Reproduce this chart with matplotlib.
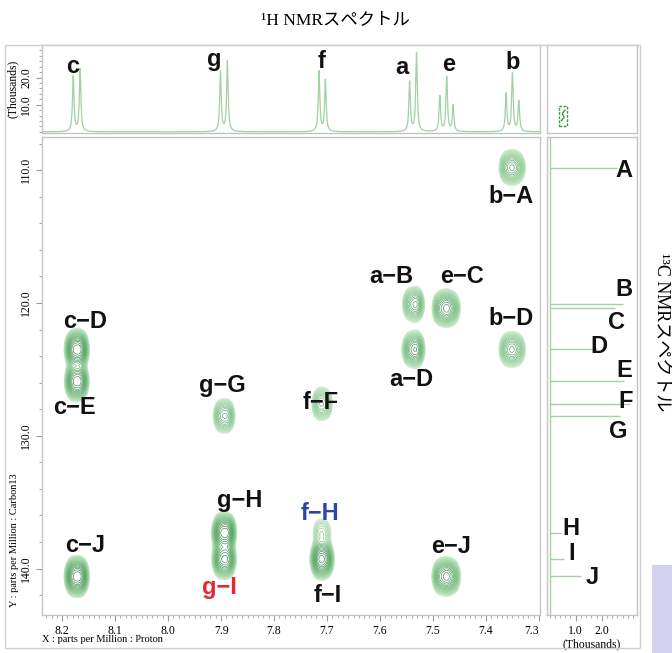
import numpy as np
import matplotlib
matplotlib.use("Agg")
import matplotlib.pyplot as plt
from matplotlib.colors import LinearSegmentedColormap
from matplotlib.ticker import MultipleLocator, FixedLocator
from matplotlib.patches import Rectangle
import matplotlib.transforms as mtransforms

# ---------------- data ----------------
# 1H multiplet lines (ppm) and their heights (thousands)
a_lines = [7.544, 7.531]
a_heights = [18.3, 28.9]
b_lines = [7.362, 7.350, 7.338]
b_heights = [14.0, 21.5, 11.2]
c_lines = [8.179, 8.166]
c_heights = [20.4, 23.0]
e_lines = [7.487, 7.474, 7.462]
e_heights = [13.0, 20.1, 9.6]
f_lines = [7.715, 7.703]
f_heights = [22.2, 19.0]
g_lines = [7.901, 7.888]
g_heights = [22.2, 26.0]

proton_names = ["c", "g", "f", "a", "e", "b"]

# 13C lines (ppm) and projection heights (thousands)
carbon_names = ["A", "B", "C", "D", "E", "F", "G", "H", "I", "J"]
carbon_ppm = [109.8, 120.1, 120.4, 123.5, 125.9, 127.6, 128.5, 137.3, 139.3, 140.6]
carbon_height = [2.6, 2.8, 2.5, 1.8, 2.85, 3.1, 2.7, 0.45, 0.55, 1.2]

# HMBC cross peaks (proton-carbon) and relative intensity
cross_pairs = ["b-A", "a-B", "e-C", "a-D", "b-D", "c-D", "c-E", "g-G",
               "f-F", "c-J", "g-H", "g-I", "f-H", "f-I", "e-J"]
cross_amp = [0.40, 0.45, 0.60, 0.60, 0.40, 1.00, 0.85, 0.35,
             0.28, 1.00, 1.00, 0.80, 0.14, 0.90, 0.70]

proton = {"a": (a_lines, a_heights), "b": (b_lines, b_heights),
          "c": (c_lines, c_heights), "e": (e_lines, e_heights),
          "f": (f_lines, f_heights), "g": (g_lines, g_heights)}
carbon = dict(zip(carbon_names, carbon_ppm))

# ---------------- figure layout ----------------
W, H = 672, 653
fig = plt.figure(figsize=(W / 100, H / 100), dpi=100)


def box(x0, y0, x1, y1):
    return [x0 / W, 1 - y1 / H, (x1 - x0) / W, (y1 - y0) / H]


ax = fig.add_axes(box(42, 137, 540, 615))
axt = fig.add_axes(box(42, 45, 540, 133), sharex=ax)
axr = fig.add_axes(box(547, 137, 637, 615), sharey=ax)
axc = fig.add_axes(box(547, 45, 637, 133))

spine_col = "#c4c4c4"
tick_col = "#9a9a9a"
trace_col = "#9fd3a0"
serif = ["Liberation Serif", "DejaVu Serif"]
sans = ["Liberation Sans", "DejaVu Sans"]
title_font = ["Liberation Serif", "Noto Sans CJK JP"]

for a_ in (ax, axt, axr, axc):
    for s in a_.spines.values():
        s.set_color(spine_col)
        s.set_linewidth(1.0)

XLIM = (8.238, 7.298)
YLIM = (143.5, 107.5)

# ---------------- 2D contour map ----------------
gx = np.linspace(XLIM[1], XLIM[0], 900)
gy = np.linspace(YLIM[1], YLIM[0], 800)
X, Y = np.meshgrid(gx, gy)
Z = np.zeros_like(X)
sx, sy = 0.0072, 0.62
for pair, amp in zip(cross_pairs, cross_amp):
    hp, cp = pair.split("-")
    lines, heights = proton[hp]
    w = np.array(heights) / max(heights)
    prof = sum(wi * np.exp(-0.5 * ((X - xi) / sx) ** 2) for xi, wi in zip(lines, w))
    Z += amp * prof * np.exp(-0.5 * ((Y - carbon[cp]) / sy) ** 2)
Z /= Z.max()

levels = np.geomspace(0.035, 1.0, 22)
cmap = LinearSegmentedColormap.from_list("grn", ["#c8e8c8", "#84c98b", "#449a51", "#237231"])
ax.contour(X, Y, Z, levels=levels, colors=cmap(np.linspace(0, 1, len(levels))),
           linewidths=0.42)

ax.set_xlim(*XLIM)
ax.set_ylim(*YLIM)

# main axis ticks
xt = [8.2, 8.1, 8.0, 7.9, 7.8, 7.7, 7.6, 7.5, 7.4, 7.3]
ax.xaxis.set_major_locator(FixedLocator(xt))
ax.xaxis.set_minor_locator(MultipleLocator(0.01))
ax.set_xticklabels([f"{v:.1f}" for v in xt], fontfamily=serif, fontsize=8.5)
last = ax.get_xticklabels()[-1]
last.set_horizontalalignment("right")
last.set_transform(last.get_transform() +
                   mtransforms.ScaledTranslation(-6 / 100, 0, fig.dpi_scale_trans))
yt = [110, 120, 130, 140]
ax.yaxis.set_major_locator(FixedLocator(yt))
ax.yaxis.set_minor_locator(MultipleLocator(2))
ax.set_yticklabels([f"{v:.1f}" for v in yt], fontfamily=serif, fontsize=8.5,
                   rotation=90, va="center")
ax.tick_params(which="major", length=4, color=tick_col, width=0.8, pad=3)
ax.tick_params(which="minor", length=2, color=tick_col, width=0.6)

# cross-peak labels
lab_txt = ["b−A", "a−B", "e−C", "b−D", "c−D", "a−D", "f−F", "g−G", "c−E",
           "g−H", "f−H", "c−J", "e−J", "g−I", "f−I"]
lab_x = [7.353, 7.578, 7.446, 7.353, 8.157, 7.540, 7.712, 7.898, 8.176,
         7.864, 7.713, 8.157, 7.466, 7.904, 7.698]
lab_y = [111.96, 118.0, 118.0, 121.2, 121.4, 125.75, 127.5, 126.2, 127.9,
         134.9, 135.85, 138.26, 138.33, 141.4, 142.0]
lab_col = ["#111111"] * 10 + ["#2e45a8"] + ["#111111"] * 2 + ["#e8262b", "#111111"]
for t, x, y, c in zip(lab_txt, lab_x, lab_y, lab_col):
    ax.text(x, y, t, ha="center", va="center", fontsize=17, fontweight="bold",
            color=c, fontfamily=sans)

# ---------------- 1H projection ----------------
px = np.linspace(XLIM[1], XLIM[0], 6000)
spec = np.zeros_like(px)
hw = 0.0017
for name in proton_names:
    lines, heights = proton[name]
    for x0, h0 in zip(lines, heights):
        spec += h0 / (1 + ((px - x0) / hw) ** 2)
axt.plot(px, spec, color=trace_col, lw=0.9)
axt.set_ylim(-0.4, 32)
axt.yaxis.set_major_locator(FixedLocator([10, 20]))
axt.yaxis.set_minor_locator(MultipleLocator(2))
axt.set_yticklabels(["10.0", "20.0"], fontfamily=serif, fontsize=8.5,
                    rotation=90, va="center")
axt.tick_params(axis="x", which="both", bottom=False, labelbottom=False)
axt.tick_params(which="major", length=4, color=tick_col, width=0.8, pad=3)
axt.tick_params(which="minor", length=2, color=tick_col, width=0.6)
axt.set_ylabel("(Thousands)", fontfamily=serif, fontsize=8.5, labelpad=1)

top_lab_x = [8.181, 7.912, 7.710, 7.559, 7.470, 7.349]
top_lab_y = [24.1, 26.7, 25.9, 23.7, 24.8, 25.6]
for t, x, y in zip(proton_names, top_lab_x, top_lab_y):
    axt.text(x, y, t, ha="center", va="center", fontsize=17, fontweight="bold",
             color="#111111", fontfamily=sans)

# ---------------- 13C projection ----------------
axr.hlines(carbon_ppm, 0, carbon_height, color=trace_col, lw=1.0)
axr.axvline(0, color=trace_col, lw=1.0)
axr.set_xlim(-0.1, 3.35)
axr.xaxis.set_major_locator(FixedLocator([1.0, 2.0]))
axr.xaxis.set_minor_locator(MultipleLocator(0.2))
axr.set_xticklabels(["1.0", "2.0"], fontfamily=serif, fontsize=8.5)
axr.tick_params(axis="y", which="both", left=False, labelleft=False)
axr.tick_params(which="major", length=4, color=tick_col, width=0.8, pad=3)
axr.tick_params(which="minor", length=2, color=tick_col, width=0.6)
axr.set_xlabel("(Thousands)", fontfamily=serif, fontsize=8.5, labelpad=1)

c_lab_x = [2.85, 2.85, 2.58, 1.88, 2.85, 2.92, 2.65, 0.81, 0.85, 1.65]
c_lab_y = [110.0, 119.0, 121.5, 123.3, 125.1, 127.4, 129.7, 137.0, 138.9, 140.7]
for t, x, y in zip(carbon_names, c_lab_x, c_lab_y):
    axr.text(x, y, t, ha="center", va="center", fontsize=17, fontweight="bold",
             color="#111111", fontfamily=sans)

# ---------------- corner box ----------------
axc.set_xticks([])
axc.set_yticks([])
axc.set_xlim(0, 1)
axc.set_ylim(0, 1)
axc.add_patch(Rectangle((0.135, 0.08), 0.085, 0.23, fill=False, ec="#3a9a48",
                        lw=1.0, ls=(0, (2, 1))))
axc.plot([0.16, 0.19, 0.17, 0.2], [0.14, 0.18, 0.22, 0.26], color="#3a9a48", lw=1.0)

# ---------------- frame, titles and axis captions ----------------
fig.add_artist(Rectangle((5 / W, 1 - 648 / H), 635 / W, 603 / H, fill=False,
                         ec="#d0d0d0", lw=1.0, transform=fig.transFigure))
fig.add_artist(Rectangle((652 / W, 0), 20 / W, 88 / H, fc="#d2d2ee", ec="none",
                         transform=fig.transFigure))

fig.text(335 / W, 1 - 20 / H, "¹H NMRスペクトル", ha="center", va="center",
         fontsize=12.5, fontfamily=title_font)
fig.text(661 / W, 1 - 332 / H, "¹³C NMRスペクトル", ha="center", va="center",
         rotation=-90, fontsize=13, fontfamily=title_font)
fig.text(15 / W, 1 - 540 / H, "Y : parts per Million : Carbon13", rotation=90,
         ha="center", va="center", fontsize=7.5, fontfamily=serif)
fig.text(42 / W, 1 - 640 / H, "X : parts per Million : Proton", ha="left",
         va="center", fontsize=7.5, fontfamily=serif)

fig.savefig("out.png", dpi=100)
